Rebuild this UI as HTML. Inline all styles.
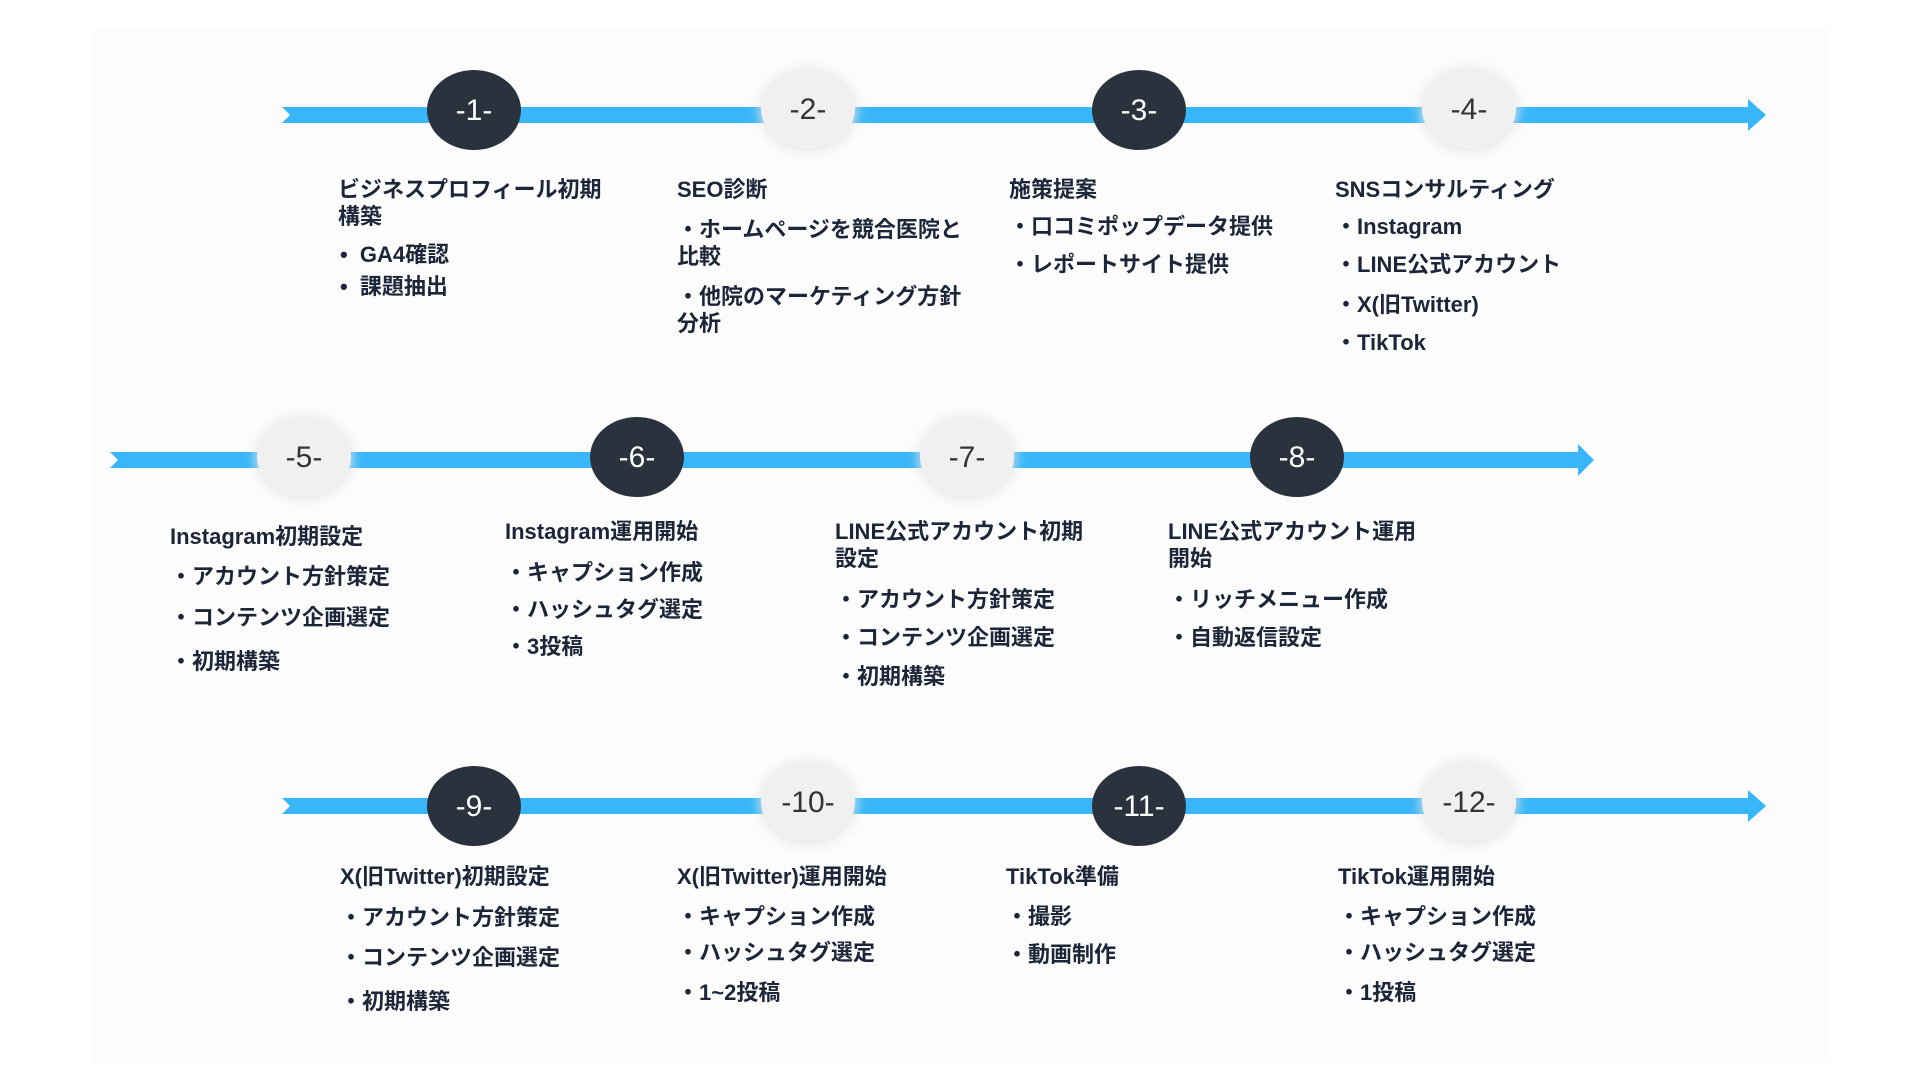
<!DOCTYPE html>
<html><head><meta charset="utf-8"><style>
html,body{margin:0;padding:0;background:#fff;}
#c{position:relative;width:1920px;height:1080px;overflow:hidden;background:#fff;}
.panel{position:absolute;left:92px;top:29px;width:1738px;height:1033px;background:#fcfcfc;}
svg{position:absolute;left:0;top:0;}
.t{position:absolute;font-family:"Liberation Sans","Noto Sans CJK JP",sans-serif;font-weight:bold;font-size:22px;color:#1c2638;white-space:nowrap;line-height:27px;}
</style></head><body><div id="c">
<div class="panel"></div>
<svg width="1920" height="1080" viewBox="0 0 1920 1080">
<defs><filter id="g" x="-50%" y="-50%" width="200%" height="200%"><feGaussianBlur stdDeviation="6"/></filter></defs>
<g fill="#38b6f9">
<polygon points="282,107 1748,107 1748,99 1766,115 1748,131 1748,123 282,123 290,115"/>
<polygon points="110,452 1578,452 1578,444 1594,460 1578,476 1578,468 110,468 118,460"/>
<polygon points="282,798 1748,798 1748,790 1766,806 1748,822 1748,814 282,814 290,806"/>
</g>
<g fill="#e4e4e4" filter="url(#g)">
<ellipse cx="808" cy="110" rx="48" ry="41"/><ellipse cx="1469" cy="110" rx="48" ry="41"/>
<ellipse cx="304" cy="458" rx="48" ry="41"/><ellipse cx="967" cy="458" rx="48" ry="41"/>
<ellipse cx="808" cy="803" rx="48" ry="41"/><ellipse cx="1469" cy="803" rx="48" ry="41"/>
</g>
<g fill="#f0f0f0">
<ellipse cx="808" cy="109" rx="47" ry="39"/><ellipse cx="1469" cy="109" rx="47" ry="39"/>
<ellipse cx="304" cy="457" rx="47" ry="39"/><ellipse cx="967" cy="457" rx="47" ry="39"/>
<ellipse cx="808" cy="802" rx="47" ry="39"/><ellipse cx="1469" cy="802" rx="47" ry="39"/>
</g>
<g fill="#2a323d">
<ellipse cx="474" cy="110" rx="47" ry="40"/><ellipse cx="1139" cy="110" rx="47" ry="40"/>
<ellipse cx="637" cy="457" rx="47" ry="40"/><ellipse cx="1297" cy="457" rx="47" ry="40"/>
<ellipse cx="474" cy="806" rx="47" ry="40"/><ellipse cx="1139" cy="806" rx="47" ry="40"/>
</g>
<g font-family="Liberation Sans, sans-serif" font-size="30" text-anchor="middle">
<text x="474" y="120" fill="#fff">-1-</text><text x="808" y="119" fill="#333">-2-</text>
<text x="1139" y="120" fill="#fff">-3-</text><text x="1469" y="119" fill="#333">-4-</text>
<text x="304" y="467" fill="#333">-5-</text><text x="637" y="467" fill="#fff">-6-</text>
<text x="967" y="467" fill="#333">-7-</text><text x="1297" y="467" fill="#fff">-8-</text>
<text x="474" y="816" fill="#fff">-9-</text><text x="808" y="812" fill="#333">-10-</text>
<text x="1139" y="816" fill="#fff">-11-</text><text x="1469" y="812" fill="#333">-12-</text>
</g>
</svg>

<div class="t" style="left:338px;top:176px;">ビジネスプロフィール初期<br>構築</div>
<div class="t" style="left:340px;top:241px;">•&nbsp;&nbsp;GA4確認</div>
<div class="t" style="left:340px;top:273px;">•&nbsp;&nbsp;課題抽出</div>

<div class="t" style="left:677px;top:176px;">SEO診断</div>
<div class="t" style="left:677px;top:216px;">・ホームページを競合医院と<br>比較</div>
<div class="t" style="left:677px;top:283px;">・他院のマーケティング方針<br>分析</div>

<div class="t" style="left:1009px;top:176px;">施策提案</div>
<div class="t" style="left:1009px;top:213px;">・口コミポップデータ提供</div>
<div class="t" style="left:1009px;top:251px;">・レポートサイト提供</div>

<div class="t" style="left:1335px;top:176px;">SNSコンサルティング</div>
<div class="t" style="left:1335px;top:213px;">・Instagram</div>
<div class="t" style="left:1335px;top:251px;">・LINE公式アカウント</div>
<div class="t" style="left:1335px;top:291px;">・X(旧Twitter)</div>
<div class="t" style="left:1335px;top:329px;">・TikTok</div>

<div class="t" style="left:170px;top:523px;">Instagram初期設定</div>
<div class="t" style="left:170px;top:563px;">・アカウント方針策定</div>
<div class="t" style="left:170px;top:604px;">・コンテンツ企画選定</div>
<div class="t" style="left:170px;top:648px;">・初期構築</div>

<div class="t" style="left:505px;top:518px;">Instagram運用開始</div>
<div class="t" style="left:505px;top:559px;">・キャプション作成</div>
<div class="t" style="left:505px;top:596px;">・ハッシュタグ選定</div>
<div class="t" style="left:505px;top:633px;">・3投稿</div>

<div class="t" style="left:835px;top:518px;">LINE公式アカウント初期<br>設定</div>
<div class="t" style="left:835px;top:586px;">・アカウント方針策定</div>
<div class="t" style="left:835px;top:624px;">・コンテンツ企画選定</div>
<div class="t" style="left:835px;top:663px;">・初期構築</div>

<div class="t" style="left:1168px;top:518px;">LINE公式アカウント運用<br>開始</div>
<div class="t" style="left:1168px;top:586px;">・リッチメニュー作成</div>
<div class="t" style="left:1168px;top:624px;">・自動返信設定</div>

<div class="t" style="left:340px;top:863px;">X(旧Twitter)初期設定</div>
<div class="t" style="left:340px;top:904px;">・アカウント方針策定</div>
<div class="t" style="left:340px;top:944px;">・コンテンツ企画選定</div>
<div class="t" style="left:340px;top:988px;">・初期構築</div>

<div class="t" style="left:677px;top:863px;">X(旧Twitter)運用開始</div>
<div class="t" style="left:677px;top:903px;">・キャプション作成</div>
<div class="t" style="left:677px;top:939px;">・ハッシュタグ選定</div>
<div class="t" style="left:677px;top:979px;">・1~2投稿</div>

<div class="t" style="left:1006px;top:863px;">TikTok準備</div>
<div class="t" style="left:1006px;top:903px;">・撮影</div>
<div class="t" style="left:1006px;top:941px;">・動画制作</div>

<div class="t" style="left:1338px;top:863px;">TikTok運用開始</div>
<div class="t" style="left:1338px;top:903px;">・キャプション作成</div>
<div class="t" style="left:1338px;top:939px;">・ハッシュタグ選定</div>
<div class="t" style="left:1338px;top:979px;">・1投稿</div>
</div></body></html>
